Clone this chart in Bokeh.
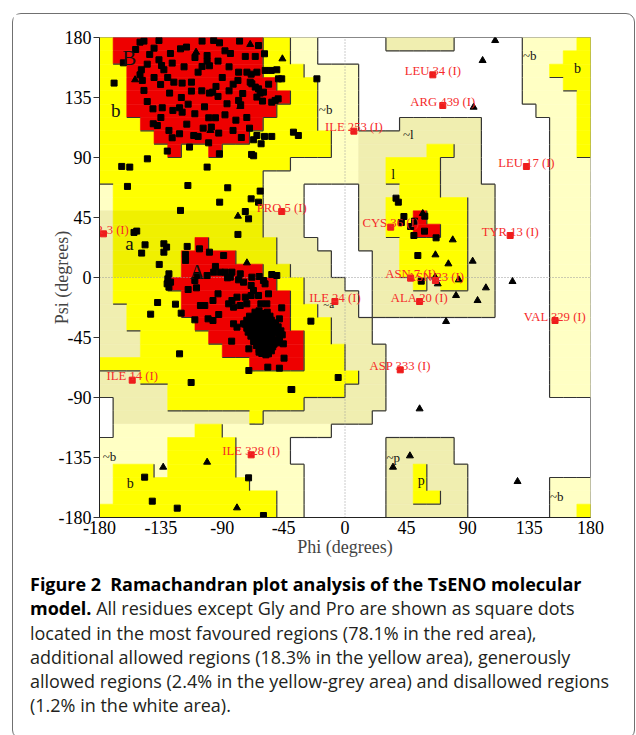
from bokeh.plotting import figure
from bokeh.layouts import column
from bokeh.models import ColumnDataSource, FixedTicker, Div
from bokeh.embed import file_html
from bokeh.resources import INLINE
from bokeh.core.properties import value

# ---------------- region map, 10 deg cells, run-length per row
# top row = psi 170..180 ; runs go from phi -180 to +180
# '.' disallowed, 'p' generously allowed, 'y' additional allowed, 'r' most favoured
region_runs = [
    "y1 r11 y2 p2 .5 p5 .5 p4 y1",
    "y1 r11 y2 p2 .15 p3 y2",
    "y2 r10 y3 p4 .12 p2 y3",
    "y2 r11 y3 p3 .12 p3 y2",
    "y2 r12 y2 p3 .12 p4 y1",
    "y2 r11 y3 p3 .13 p3 y1",
    "y3 r9 y4 p3 .3 p6 .5 p2 y1",
    "y4 r7 y6 p11 .5 p2 y1",
    "y5 r1 y2 r1 y8 p7 y2 p2 .5 p2 y1",
    "y14 p7 y4 p3 .5 p3",
    "y12 p9 y4 p3 .5 p3",
    "p1 y11 p3 .4 p3 y3 p4 .4 p3",
    "p1 y11 p3 .4 p2 y6 p2 .4 p3",
    "p1 y11 p3 .4 p2 y2 r1 y3 p2 .4 p3",
    "p1 y11 p3 .4 p2 y2 r2 y2 p2 .4 p3",
    "p1 y6 r1 y5 p3 .3 p3 y5 p2 .4 p3",
    "p1 y5 r4 y3 p4 .3 p2 y5 p2 .4 p3",
    "p1 y5 r6 y2 p3 .3 p2 y5 p2 .4 p3",
    "p1 y4 r8 y2 p3 .2 p3 y1 p1 y2 p2 .4 p3",
    "p1 y5 r8 y1 p4 .1 p9 .4 p3",
    "p2 y4 r8 y2 p3 .1 p9 .4 p3",
    "p2 y5 r7 y3 p3 .13 p3",
    "p3 y5 r7 y2 p3 .13 p3",
    "p3 y6 r6 y3 p3 .12 p3",
    "y11 r4 y3 p3 .12 p3",
    "p3 y16 p2 .12 p3",
    "p5 y13 p3 .12 p3",
    ".1 p4 y10 p6 .15",
    ".1 p10 y1 p8 .16",
    ".1 p6 y2 p8 .19",
    "p5 y5 p4 .7 p5 .10",
    "p5 y5 p4 .7 p5 .10",
    "p1 y3 p1 y5 p5 .6 p2 y1 p3 .9",
    "p1 y10 p4 .6 p2 y1 p3 .6 p3",
    "p1 y12 p2 .6 p2 y2 p2 .6 p3",
    "y13 p2 .6 p6 .6 p2 y1",
]

# ---------------- residues (phi, psi)
squares_B = [
    (-150.3, 176.5), (-147.4, 177.3), (-136.4, 177.8), (-120.6, 171.5), (-116.2, 172.8),
    (-104.8, 177.3), (-96.3, 177.8), (-77.3, 177.3), (-63.4, 174), (-153.5, 171),
    (-101.1, 166.5), (-143.2, 167.3), (-73.1, 165.8), (-65.8, 165.8), (-59, 167.8),
    (-162.5, 161), (-136.4, 163.3), (-126.7, 160.8), (-101.1, 162.3), (-93.1, 162.3),
    (-99.4, 158.8), (-134.5, 159), (-132.8, 155.8), (-149.3, 155.8), (-150.3, 152),
    (-104.8, 158.3), (-78, 154), (-71.9, 154), (-68.8, 152.5), (-64.6, 154),
    (-58.5, 155.3), (-54.1, 155.3), (-50, 155.8), (-169.3, 145.8), (-148.6, 147.8),
    (-125.5, 146.5), (-119.4, 145.8), (-112.6, 146.5), (-107.7, 154), (-78.5, 147.8),
    (-69.5, 146.5), (-48.8, 149), (-46.4, 149), (-147.4, 140.3), (-135.2, 144.8),
    (-128.6, 138.3), (-112.6, 139.8), (-99.4, 138.3), (-97, 139), (-94.6, 143.3),
    (-93.1, 135.8), (-86.5, 130.3), (-78, 132.8), (-76.5, 129.5), (-68.3, 145.3),
    (-65.8, 142.8), (-63.4, 141.5), (-62.2, 138.3), (-59.8, 139), (-64.6, 135.3),
    (-60.5, 132.3), (-53.7, 131.5), (-51.2, 132.8), (-49, 134), (-140.8, 126.5),
    (-134, 127.3), (-126.2, 125.3), (-121.3, 127.3), (-119.4, 124), (-99.9, 119.8),
    (-95, 119.8), (-110.1, 122.8), (-140.6, 115.3), (-137.6, 114), (-129.1, 110.3),
    (-126.7, 104.8), (-121.3, 107.8), (-107.7, 105.8), (-110.9, 106.5), (-92.6, 108.3),
    (-98, 112.8), (-82.1, 110.3), (-67, 103.3), (-64.6, 106.5), (-59, 105.8),
    (-53.7, 105.8), (-61.5, 100.3), (-130.3, 94.8), (-114, 97.8), (-92.1, 92.8),
    (-68.5, 92.3), (-67, 91.3), (-145, 160), (-140, 150), (-130, 150), (-118, 158),
    (-110, 165), (-88, 170), (-85, 158), (-82, 145), (-90, 150), (-105, 140),
    (-120, 135), (-115, 130), (-103, 128), (-88, 122), (-80, 118), (-72, 120),
    (-85, 140), (-128, 168), (-140, 172), (-92, 176), (-84, 168), (-75, 138),
    (-56, 145), (-70, 112), (-76, 105), (-100, 101), (-135, 120), (-145, 132),
    (-116, 115), (-104, 112),
]

squares_left = [
    (-37.8, 109), (-34.2, 106.5), (-20.6, 149), (-144.9, 89), (-101.1, 82.8),
    (-163.7, 83.3), (-157.8, 82.8), (-115.2, 69), (-86, 67.3), (-159.5, 68.3),
    (-62.2, 64.8), (-68.8, 59), (-91.9, 56.5), (-73.1, 49.5), (-120.6, 50.3),
    (-78.5, 32.3), (-152.7, 34.8), (-154.7, 33.8), (-146.6, 24.5), (-132.8, 25.3),
    (-149.1, 18.3), (-132.8, 19), (-115.7, 23.3), (-106.7, 21.5), (-99.4, 19),
    (-116.9, 12.8), (-95, 8.3), (-130.8, 22.8), (-136.2, 9.8), (-117, 17.3),
    (-89, 16.5), (-63.4, 56.5), (-70.7, 44),
]

squares_A = [
    (-129.1, 2.75), (-129.9, -1), (-130.4, -4.75), (-129.1, -7.25), (-127.9, -3.5),
    (-108.4, 1.5), (-101.1, 1.5), (-96.3, 4), (-91.4, 4), (-87.8, 4), (-82.9, 4),
    (-84.1, 0.25), (-76.8, 2.75), (-68.3, 0.25), (-62.9, 0.75), (-53.7, 2.25),
    (-50, 1.5), (-110.1, -2.25), (-108.9, -7.75), (-115, -9), (-93.1, -12.25),
    (-96.8, -17.25), (-86.1, -0.25), (-78, -1.75), (-74.4, -3.5), (-68.8, -6),
    (-67.1, -9.75), (-59.8, -2.25), (-58.6, -4.75), (-56.1, -12.25), (-68.8, -13.5),
    (-63.4, -13.5), (-73.1, -14.75), (-79.2, -14.75), (-82.9, -17.25), (-85.3, -19.75),
    (-81.7, -22.25), (-76.8, -21), (-72, -19.75), (-61.7, -19.75), (-57.3, -19.75),
    (-46.4, -22.75), (-48.1, -31), (-137.4, -18.75), (-124.3, -20), (-120.1, -26.75),
    (-142.5, -27.5), (-110.1, -31.75), (-106, -21), (-102.8, -21), (-92.6, -27.75),
    (-100.4, -31), (-96.8, -32.25), (-81.7, -34.75), (-74.4, -34.75), (-79.2, -37.25),
    (-83.1, -47.75), (-70.5, -53.5), (-63, -56), (-56.1, -57.25), (-45.2, -49.75),
    (-44.7, -60.5), (-121.3, -57.25), (-56.6, -67.25), (-48.1, -68), (-70.5, -69.75),
    (-39.6, -84), (-112.8, -78.75), (-25, -32.75),
]

squares_A_core = [
    (-66, -26), (-63, -25), (-60, -27), (-57, -26), (-70, -29), (-67, -30), (-64, -29),
    (-61, -30), (-58, -28), (-55, -29), (-72, -32), (-69, -33), (-66, -32), (-63, -33),
    (-60, -31), (-57, -33), (-54, -32), (-51, -34), (-73, -35), (-70, -36), (-67, -35),
    (-64, -36), (-61, -35), (-58, -37), (-55, -35), (-52, -36), (-49, -37), (-72, -38),
    (-69, -39), (-66, -38), (-63, -40), (-60, -38), (-57, -39), (-54, -40), (-51, -38),
    (-47, -40), (-71, -41), (-68, -42), (-65, -41), (-62, -43), (-59, -41), (-56, -42),
    (-53, -43), (-50, -41), (-46, -43), (-69, -44), (-66, -45), (-63, -46), (-60, -44),
    (-57, -46), (-54, -45), (-51, -47), (-48, -45), (-67, -48), (-64, -49), (-61, -47),
    (-58, -49), (-55, -48), (-52, -50), (-49, -49), (-65, -51), (-62, -52), (-59, -51),
    (-56, -53), (-53, -52), (-63, -54), (-60, -55), (-57, -54), (-54, -55), (-61, -57),
    (-58, -58),
]

squares_other = [
    (37.4, 59.5), (39.1, 56.5), (43.2, 45.75), (41.3, 41.25), (48.1, 38.25),
    (51, 42.25), (58.5, 46), (58.3, 34.75), (50.5, 31.5), (66.8, 29.75),
    (53.4, 16.5), (55.9, -2.75), (-5, -75), (-39, -84), (-146.9, -149.75),
    (-70.7, -150.25), (-141.3, -167.75), (-123, -173), (-59.8, -178.5),
]

glycines = [
    (-69.5, 174.8), (-109.2, 169), (-45.9, 164), (-153.9, 148.3), (-76.8, 128.3),
    (-98.7, 110.3), (-78.5, 46), (-71.9, 11), (110.1, 177.75), (100.9, 162.75),
    (94.3, 127.75), (57, 48), (79, 28.25), (66.3, 17), (75.8, 10.25), (93.6, 12.25),
    (83.4, -1.75), (68, -4.75), (66.1, 0.25), (103.3, -7.75), (97.2, -17.25),
    (81.4, -13.5), (74.1, -33), (122.8, -3), (54.7, -98.5), (47.6, -133.75),
    (35.2, -142.25), (126.5, -153), (-133.3, -142.25), (-101.1, -138.5), (-79.2, -172.75),
]

outlier_names = ["LEU 34 (I)", "ARG 439 (I)", "ILE 253 (I)", "LEU 17 (I)", "PRO 5 (I)",
                 "TYR 3 (I)", "CYS 36 (I)", "TYR 13 (I)", "ASN 7 (I)", "ASN 23 (I)",
                 "ALA 20 (I)", "ILE 24 (I)", "VAL 329 (I)", "ASP 333 (I)", "ILE 14 (I)",
                 "ILE 328 (I)"]
outlier_phi = [64.4, 71.7, 6.5, 133, -46.4, -177.1, 33.5, 121.1, 48.1, 66.3,
               54.7, -7.4, 154, 40.5, -156, -68.8]
outlier_psi = [152, 129, 109.75, 83.25, 49.5, 32.75, 37.75, 31.5, -0.5, -2.25,
               -18, -18, -32.25, -69.25, -77, -133]

region_text = ["B", "b", "a", "A", "~b", "~b", "b", "~l", "l", "~b", "b", "~p", "p", "~b", "~a"]
region_phi = [-158.1, -168, -158.1, -108.4, -14.2, 135.5, 170.5, 46.4, 35.4, -172.7,
              -157.4, 35.4, 55.9, 155.2, -12]
region_psi = [165, 125.25, 25.5, 4.5, 126, 166.5, 156.75, 107.25, 77.25, -134.25,
              -154.5, -135, -152.25, -164.25, -19.5]
region_size = ["21px", "19px", "19px", "21px", "13px", "13px", "14px", "13px", "14px",
               "13px", "14px", "13px", "14px", "13px", "11px"]

tick_values = [-180, -135, -90, -45, 0, 45, 90, 135, 180]
tick_labels = ["-180", "-135", "-90", "-45", "0", "45", "90", "135", "180"]

caption_title = "Figure 2&ensp;Ramachandran plot analysis of the TsENO molecular"
caption_title_end = "model."
caption_lines = [
    "All residues except Gly and Pro are shown as square dots",
    "located in the most favoured regions (78.1% in the red area),",
    "additional allowed regions (18.3% in the yellow area), generously",
    "allowed regions (2.4% in the yellow-grey area) and disallowed regions",
    "(1.2% in the white area).",
]

# ---------------- expand region map
region_rows = []
for i, spec in enumerate(region_runs):
    row = "".join(tok[0] * int(tok[1:]) for tok in spec.split())
    if len(row) != 36:
        raise ValueError(f"row {i} has {len(row)} cells")
    region_rows.append(row)

RED = "#EE0000"
YEL = "#FFFF00"
YEL_DIM = "#F0F000"
PALE = "#FFFFC4"
KHAKI = "#F0EEB0"
rank = {".": 0, "p": 1, "y": 2, "r": 3}


def cell_colour(ch, r, c):
    if ch == "r":
        return RED
    if ch == "y":
        return YEL_DIM if (13 <= r <= 17 and c <= 17) else YEL
    if ch == "p":
        return KHAKI if (19 <= c <= 29 or (13 <= r <= 28 and c <= 29)) else PALE
    return "#FFFFFF"


q = dict(left=[], right=[], top=[], bottom=[], color=[])
for r, row in enumerate(region_rows):
    c = 0
    while c < 36:
        col = cell_colour(row[c], r, c)
        c2 = c
        while c2 + 1 < 36 and cell_colour(row[c2 + 1], r, c2 + 1) == col:
            c2 += 1
        if col != "#FFFFFF":
            q["left"].append(-180 + 10 * c)
            q["right"].append(-170 + 10 * c2)
            q["top"].append(180 - 10 * r)
            q["bottom"].append(170 - 10 * r)
            q["color"].append(col)
        c = c2 + 1

seg = dict(x0=[], y0=[], x1=[], y1=[])


def need_line(a, b):
    ra, rb = rank[a], rank[b]
    if ra == rb:
        return False
    return ra > rb or ra == 0


for r, row in enumerate(region_rows):
    for c in range(35):
        if need_line(row[c], row[c + 1]):
            x = -170 + 10 * c
            seg["x0"].append(x); seg["x1"].append(x)
            seg["y0"].append(170 - 10 * r); seg["y1"].append(180 - 10 * r)
for r in range(35):
    for c in range(36):
        if need_line(region_rows[r][c], region_rows[r + 1][c]):
            y = 170 - 10 * r
            seg["y0"].append(y); seg["y1"].append(y)
            seg["x0"].append(-180 + 10 * c); seg["x1"].append(-170 + 10 * c)

p = figure(frame_width=491, frame_height=480, x_range=(-180, 180), y_range=(-180, 180),
           output_backend="svg", toolbar_location=None,
           min_border_left=86, min_border_right=34, min_border_top=23, min_border_bottom=45)
p.background_fill_color = "white"
p.border_fill_color = "white"
p.outline_line_color = "#888888"
p.xgrid.visible = False
p.ygrid.visible = False

p.quad(left="left", right="right", top="top", bottom="bottom", fill_color="color",
       line_color="color", line_width=0.6, source=ColumnDataSource(q))
p.segment(x0="x0", y0="y0", x1="x1", y1="y1", line_color="#333333", line_width=1.2,
          source=ColumnDataSource(seg))
p.segment(x0=[0, -180], y0=[-180, 0], x1=[0, 180], y1=[180, 0], line_color="#999999",
          line_dash="1 2", line_width=1)

serif = value("Liberation Serif")
all_sq = squares_B + squares_left + squares_A + squares_A_core + squares_other
p.scatter([a for a, b in all_sq], [b for a, b in all_sq], marker="square", size=6,
          color="black")
p.scatter([a for a, b in glycines], [b for a, b in glycines], marker="triangle", size=7,
          color="black")
p.text(x=region_phi, y=region_psi, text=region_text, text_font=serif,
       text_font_size=region_size, text_align="center", text_baseline="alphabetic",
       text_color="#111111")
p.scatter(outlier_phi, outlier_psi, marker="square", size=6, color="#EE1C1C")
p.text(x=outlier_phi, y=outlier_psi, text=outlier_names, text_font=serif,
       text_font_size="12.7px", text_align="center", text_baseline="alphabetic",
       y_offset=-4, text_color="#F52a2a")

for ax in (p.xaxis[0], p.yaxis[0]):
    ax.ticker = FixedTicker(ticks=tick_values)
    ax.major_label_overrides = dict(zip(tick_values, tick_labels))
    ax.major_label_text_font = "Liberation Serif"
    ax.major_label_text_font_size = "18px"
    ax.major_label_text_color = "black"
    ax.axis_label_text_font = "Liberation Serif"
    ax.axis_label_text_font_size = "18px"
    ax.axis_label_text_font_style = "normal"
    ax.axis_line_color = "#222222"
    ax.minor_tick_line_color = None
    ax.major_tick_in = 0
p.xaxis.axis_label = "Phi (degrees)"
p.yaxis.axis_label = "Psi (degrees)"
p.xaxis.major_tick_out = 0
p.xaxis.major_label_standoff = 3
p.xaxis.axis_label_standoff = 0
p.yaxis.major_tick_out = 6
p.yaxis.major_tick_line_color = "#333333"
p.yaxis.major_label_standoff = 2
p.yaxis.axis_label_standoff = -16

# ---------------- caption
body = "<br>".join(caption_lines[1:])
caption_html = (
    '<div style="font-family:\'Open Sans\',sans-serif;font-size:18px;line-height:24.3px;'
    'color:#231f20;white-space:nowrap;padding:5px 0 0 12px;">'
    f'<b style="color:#000">{caption_title}</b><br>'
    f'<b style="color:#000">{caption_title_end}</b> {caption_lines[0]}<br>'
    f'{body}</div>'
)
cap = Div(text=caption_html, width=611, height=166)

layout = column(p, cap, margin=(13, 0, 0, 12), spacing=0,
                styles={"border": "1px solid #707070", "border-radius": "9px",
                        "background": "white"})

open("out.html", "w").write(file_html(layout, INLINE))
